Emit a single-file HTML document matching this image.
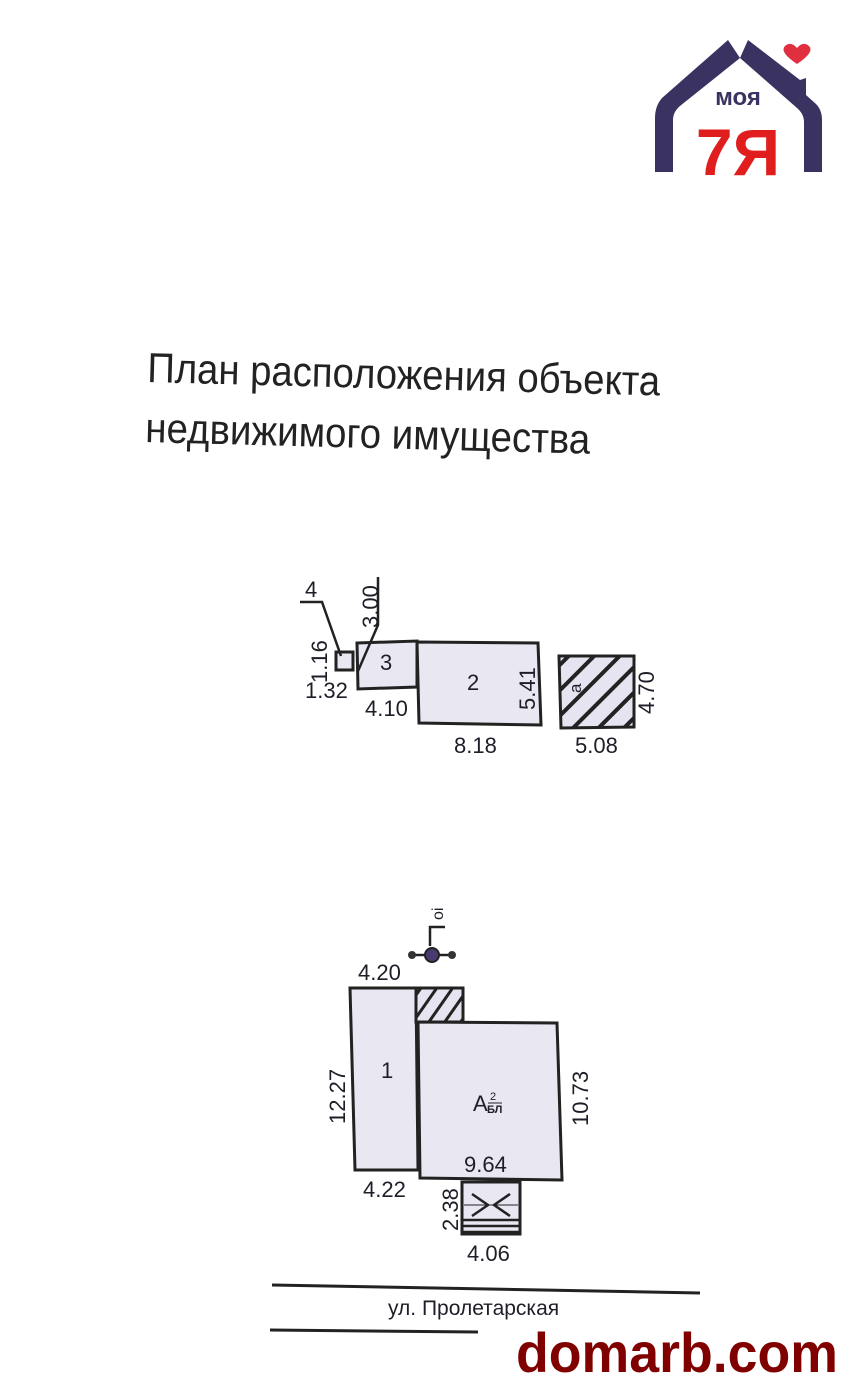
<!DOCTYPE html>
<html><head><meta charset="utf-8"><style>
html,body{margin:0;padding:0;background:#fff;}
svg{display:block;}
text{font-family:"Liberation Sans","DejaVu Sans",sans-serif;fill:#1e1e28;}
</style></head><body>
<svg width="856" height="1395" viewBox="0 0 856 1395" xmlns="http://www.w3.org/2000/svg">
<defs>
<pattern id="h" patternUnits="userSpaceOnUse" width="18" height="18" patternTransform="rotate(45)">
<rect width="18" height="18" fill="#e6e4f0"/><rect x="0" y="0" width="4" height="18" fill="#222"/>
</pattern>
<pattern id="h2" patternUnits="userSpaceOnUse" width="13" height="13" patternTransform="rotate(35)">
<rect width="13" height="13" fill="#e6e4f0"/><rect x="0" y="0" width="3" height="13" fill="#222"/>
</pattern>
</defs>
<g>
<path d="M728,40 L662,98 Q655,106 655,118 L655,172 L673,172 L673,120 Q673,112 680,106 L740,58 Z" fill="#3a3260"/>
<path d="M748,40 L800,80 L806,78 L806,95 L816,104 Q822,110 822,120 L822,172 L804,172 L804,122 Q804,114 797,108 L740,58 Z" fill="#3a3260"/>
<path d="M797,48 q-6,-7 -12,-2 q-6,6 12,18 q18,-12 12,-18 q-6,-5 -12,2z" fill="#e03040"/>
<text x="738" y="105" font-size="24" font-weight="bold" text-anchor="middle" style="fill:#3a3260">моя</text>
<text x="738" y="175" font-size="66" font-weight="bold" text-anchor="middle" style="fill:#e01e1e">7Я</text>
</g>
<text x="147" y="382" font-size="42" transform="rotate(1.5 145 380)" textLength="513" lengthAdjust="spacingAndGlyphs" style="fill:#222">План расположения объекта</text>
<text x="145" y="442" font-size="42" transform="rotate(1.5 143 442)" textLength="445" lengthAdjust="spacingAndGlyphs" style="fill:#222">недвижимого имущества</text>
<g stroke="#222" stroke-width="3" fill="#e8e7f2">
<rect x="336" y="652" width="17" height="18"/>
<polygon points="357,643 417,641 417,687 358,689"/>
<polygon points="417,642 538,643 541,725 419,723"/>
<polygon points="559,656 634,656 634,727 561,728" fill="url(#h)"/>
</g>
<g stroke="#222" stroke-width="2.5" fill="none">
<polyline points="300,602 322,602 341,656"/>
<polyline points="378,577 378,625 358,671"/>
</g>
<g font-size="22">
<text x="305" y="597">4</text>
<text x="380" y="670">3</text>
<text x="467" y="690">2</text>
<text x="576" y="698" font-size="17" transform="rotate(-90 576 693)">а</text>
<text x="305" y="698">1.32</text>
<text x="365" y="716">4.10</text>
<text x="454" y="753">8.18</text>
<text x="575" y="753">5.08</text>
<text transform="translate(327,683) rotate(-90)">1.16</text>
<text transform="translate(378,628) rotate(-90)">3.00</text>
<text transform="translate(535,710) rotate(-90)">5.41</text>
<text transform="translate(654,714) rotate(-90)">4.70</text>
</g>
<g stroke="#222" stroke-width="3" fill="#e8e7f2">
<polygon points="350,988 416,988 418,1170 355,1170"/>
<rect x="416" y="988" width="47" height="34" fill="url(#h2)"/>
<polygon points="418,1022 557,1023 562,1180 420,1178"/>
<rect x="462" y="1182" width="58" height="52"/>
</g>
<g stroke="#222" stroke-width="2.5" fill="none">
<polyline points="472,1194 488,1205 472,1216"/>
<polyline points="510,1194 494,1205 510,1216"/>
<line x1="464" y1="1205" x2="518" y2="1205" stroke-width="1"/>
<line x1="462" y1="1220" x2="520" y2="1220"/>
<line x1="462" y1="1226" x2="520" y2="1226"/>
<line x1="462" y1="1232" x2="520" y2="1232"/>
<polyline points="445,927 430,927 430,946"/>
<line x1="412" y1="955" x2="452" y2="955"/>
</g>
<circle cx="432" cy="955" r="7" fill="#4a3a70" stroke="#222" stroke-width="2"/>
<circle cx="412" cy="955" r="4" fill="#333"/><circle cx="452" cy="955" r="4" fill="#333"/>
<g font-size="22">
<text transform="translate(443,920) rotate(-90)" font-size="16">оі</text>
<text x="358" y="980">4.20</text>
<text x="381" y="1078">1</text>
<text x="473" y="1111">А</text>
<text x="490" y="1100" font-size="11">2</text>
<line x1="488" y1="1103" x2="502" y2="1103" stroke="#222" stroke-width="1"/>
<text x="487" y="1113" font-size="11" font-weight="bold">БЛ</text>
<text x="464" y="1172">9.64</text>
<text x="363" y="1197">4.22</text>
<text x="467" y="1261">4.06</text>
<text transform="translate(345,1124) rotate(-90)">12.27</text>
<text transform="translate(588,1126) rotate(-90)">10.73</text>
<text transform="translate(458,1231) rotate(-90)">2.38</text>
</g>
<path d="M272,1285 Q480,1288 700,1293" stroke="#222" stroke-width="3" fill="none"/>
<path d="M270,1330 L478,1332" stroke="#222" stroke-width="3" fill="none"/>
<text x="388" y="1315" font-size="21">ул. Пролетарская</text>
<text x="516" y="1372" font-size="56" font-weight="bold" textLength="322" lengthAdjust="spacingAndGlyphs" style="fill:#800000">domarb.com</text>
</svg>
</body></html>
